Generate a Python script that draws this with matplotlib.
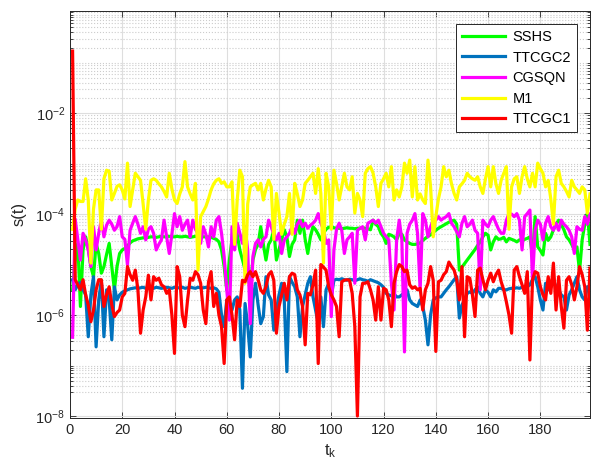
import numpy as np
import matplotlib
matplotlib.use("Agg")
import matplotlib.pyplot as plt
from matplotlib.ticker import FixedLocator, NullFormatter

plt.rcParams['font.family'] = ['Liberation Sans', 'DejaVu Sans']
plt.rcParams['mathtext.default'] = 'regular'

# log10 of s(t), t = 1..199
sshs = [-5.5, -4.9, -4.58, -5.83, -4.71, -4.45, -4.7, -5.04, -5.24, -4.58,
        -4.78, -5.17, -5.04, -4.8, -4.58, -5.04, -5.5, -5.04, -4.78, -4.71,
        -4.68, -4.63, -4.57, -4.53, -4.51, -4.49, -4.48, -4.47, -4.47, -4.46,
        -4.45, -4.45, -4.46, -4.45, -4.44, -4.45, -4.45, -4.44, -4.45, -4.45,
        -4.44, -4.45, -4.45, -4.44, -4.45, -4.46, -4.45, -4.44, -4.45, -4.45,
        -4.45, -4.45, -4.45, -4.46, -4.48, -4.5, -4.55, -4.71, -5.04, -5.5,
        -4.91, -4.5, -4.12, -4.4, -4.71, -4.9, -5.1, -5.24, -5.44, -4.91,
        -4.7, -4.6, -4.25, -4.6, -4.91, -4.6, -4.51, -4.31, -4.91, -4.7,
        -4.51, -4.31, -4.45, -4.84, -4.6, -4.51, -4.12, -4.38, -4.12, -4.5,
        -4.78, -4.45, -4.25, -4.31, -4.4, -4.51, -4.38, -4.3, -4.26, -4.25,
        -4.27, -4.28, -4.28, -4.29, -4.28, -4.27, -4.28, -4.28, -4.29, -4.28,
        -4.28, -4.27, -4.28, -4.29, -4.31, -4.12, -4.2, -4.25, -4.38, -4.45,
        -4.58, -4.4, -4.42, -4.45, -4.51, -4.38, -4.4, -4.51, -4.55, -4.58,
        -4.6, -4.6, -4.59, -4.57, -4.52, -4.48, -4.44, -4.41, -4.36, -4.32,
        -4.28, -4.25, -4.22, -4.19, -4.16, -4.14, -4.12, -4.2, -5.11, -5.05,
        -4.98, -4.91, -4.84, -4.77, -4.7, -4.62, -4.55, -4.45, -4.38, -4.42,
        -4.71, -4.55, -4.45, -4.5, -4.49, -4.46, -4.55, -4.48, -4.5, -4.52,
        -4.55, -4.51, -4.52, -4.5, -4.48, -4.45, -4.84, -4.05, -4.65, -4.72,
        -4.81, -4.38, -4.52, -4.45, -4.31, -4.2, -4.12, -4.2, -4.31, -4.45,
        -4.51, -4.6, -4.71, -4.65, -5.14, -4.51, -4.2, -3.98, -4.6]

ttcgc2 = [-5.3, -5.5, -5.4, -5.35, -5.5, -5.6, -6.43, -5.6, -5.24, -6.63,
          -5.7, -5.31, -6.43, -5.5, -5.7, -6.49, -5.44, -5.7, -5.6, -5.55,
          -5.52, -5.5, -5.48, -5.47, -5.46, -5.47, -5.46, -5.45, -5.47, -5.46,
          -5.46, -5.47, -5.45, -5.46, -5.47, -5.46, -5.45, -5.46, -5.47, -5.45,
          -5.46, -5.46, -5.45, -5.47, -5.46, -5.45, -5.46, -5.47, -5.45, -5.46,
          -5.46, -5.45, -5.46, -5.47, -5.46, -5.48, -5.55, -6.0, -6.23, -5.7,
          -5.8, -5.9, -5.7, -5.64, -5.9, -7.45, -5.77, -6.2, -6.83, -5.7,
          -5.37, -5.8, -6.17, -6.03, -5.24, -5.6, -5.7, -6.3, -5.9, -5.6,
          -5.37, -5.7, -7.12, -5.24, -5.35, -5.44, -5.64, -6.43, -5.83, -5.6,
          -5.37, -5.24, -5.64, -5.9, -6.17, -5.64, -6.23, -5.5, -5.37, -5.64,
          -5.31, -5.29, -5.3, -5.28, -5.3, -5.31, -5.29, -5.3, -5.32, -5.3,
          -5.28, -5.3, -5.31, -5.33, -5.3, -5.32, -5.34, -5.36, -5.4, -5.45,
          -5.57, -5.6, -5.62, -5.58, -5.64, -5.64, -5.6, -5.55, -5.5, -5.7,
          -5.77, -5.8, -5.83, -5.7, -5.83, -6.1, -6.59, -6.0, -5.7, -5.66,
          -5.64, -5.64, -5.57, -5.5, -5.44, -5.37, -5.3, -5.24, -6.06, -5.8,
          -5.7, -5.57, -5.54, -5.57, -5.5, -5.44, -5.57, -5.64, -5.5, -5.55,
          -5.64, -5.5, -5.54, -5.47, -5.47, -5.5, -5.5, -5.48, -5.47, -5.47,
          -5.46, -5.47, -5.45, -5.44, -5.44, -5.4, -5.3, -5.24, -5.44, -5.7,
          -5.9, -5.37, -5.5, -5.45, -5.31, -5.44, -5.5, -5.6, -5.64, -5.9,
          -5.6, -5.5, -5.37, -5.24, -5.5, -5.64, -5.7, -5.44, -5.5]

cgsqn = [-6.44, -4.1, -4.5, -4.91, -4.38, -4.51, -4.7, -5.04, -4.25, -4.71,
         -4.38, -4.12, -4.45, -4.22, -4.12, -4.2, -4.32, -4.25, -4.05, -4.45,
         -4.5, -5.01, -4.32, -4.18, -4.05, -4.2, -4.38, -4.25, -4.51, -4.3,
         -4.25, -4.38, -4.71, -4.6, -4.51, -4.12, -4.45, -4.78, -4.4, -3.99,
         -4.25, -4.05, -4.32, -4.2, -4.12, -4.45, -4.12, -4.3, -4.38, -4.58,
         -4.25, -4.4, -4.65, -4.25, -4.45, -4.12, -4.05, -4.38, -4.84, -5.5,
         -6.1, -4.25, -4.71, -4.18, -4.38, -4.58, -4.25, -4.71, -6.17, -4.84,
         -4.58, -4.51, -4.65, -4.5, -4.45, -4.12, -4.25, -4.4, -4.51, -4.38,
         -4.78, -4.51, -4.45, -4.38, -4.25, -4.38, -4.2, -4.12, -4.25, -4.18,
         -4.28, -4.22, -4.18, -4.12, -3.99, -4.18, -4.3, -4.58, -4.51, -6.03,
         -4.71, -4.3, -4.18, -4.32, -4.78, -4.51, -4.45, -4.38, -5.37, -4.32,
         -4.28, -4.25, -4.51, -4.18, -4.15, -4.12, -4.18, -4.12, -4.25, -4.38,
         -4.45, -4.51, -5.37, -5.9, -4.51, -4.12, -4.51, -6.73, -4.38, -4.2,
         -4.12, -3.99, -4.38, -5.5, -3.99, -4.12, -4.45, -4.25, -4.12, -4.12,
         -4.05, -4.12, -4.08, -4.05, -3.99, -4.18, -4.25, -4.35, -4.45, -4.18,
         -4.05, -4.25, -4.2, -4.12, -4.32, -4.38, -5.5, -4.12, -4.2, -4.25,
         -4.12, -4.05, -4.18, -4.3, -4.38, -4.38, -4.12, -3.99, -4.0, -4.05,
         -3.99, -4.12, -4.71, -4.05, -3.99, -3.92, -5.31, -4.32, -4.12, -4.2,
         -4.51, -4.18, -4.05, -4.25, -4.32, -4.18, -4.32, -4.12, -4.2, -4.25,
         -4.32, -4.45, -4.78, -4.25, -4.3, -4.32, -4.05, -4.2, -4.0]

m1 = [-4.3, -3.9, -3.72, -3.75, -3.75, -3.3, -3.72, -4.97, -3.9, -3.52,
      -3.52, -4.3, -3.3, -3.13, -3.15, -3.72, -3.59, -3.45, -3.42, -3.52,
      -3.7, -2.99, -3.85, -3.52, -3.19, -3.26, -3.33, -3.8, -4.3, -3.72,
      -3.33, -3.3, -3.33, -3.4, -3.46, -3.55, -3.66, -3.19, -3.5, -3.72,
      -3.79, -3.6, -3.46, -2.96, -3.46, -3.6, -3.72, -3.39, -5.11, -4.05,
      -3.95, -3.85, -3.7, -3.52, -3.4, -3.33, -3.3, -3.39, -3.36, -3.46,
      -3.46, -3.36, -4.6, -3.72, -3.13, -3.26, -5.37, -3.8, -3.46, -3.42,
      -3.39, -3.52, -3.39, -3.72, -3.5, -3.33, -3.46, -4.5, -3.59, -3.98,
      -4.4, -4.2, -4.05, -3.59, -4.4, -3.39, -3.6, -3.85, -3.72, -3.39,
      -3.33, -3.26, -3.19, -3.59, -3.1, -3.59, -4.97, -3.19, -3.46, -4.3,
      -3.13, -3.39, -3.72, -3.46, -3.19, -3.46, -3.52, -3.26, -3.98, -3.59,
      -3.72, -4.05, -3.19, -3.1, -3.06, -3.19, -3.46, -3.85, -3.39, -3.3,
      -3.19, -3.46, -3.06, -3.72, -3.52, -3.66, -3.46, -2.99, -3.19, -2.93,
      -3.66, -3.06, -3.72, -3.6, -3.72, -3.79, -2.93, -3.46, -4.45, -4.05,
      -3.7, -3.46, -3.06, -3.26, -3.13, -3.4, -3.59, -3.72, -3.46, -3.4,
      -3.33, -3.19, -3.26, -3.3, -3.33, -3.26, -3.46, -3.59, -3.3, -3.06,
      -3.46, -3.06, -3.4, -3.59, -3.33, -3.19, -3.06, -4.3, -3.46, -3.3,
      -3.26, -3.59, -3.26, -3.06, -3.3, -3.46, -3.19, -3.46, -2.99, -3.1,
      -3.19, -3.46, -3.33, -3.7, -4.2, -3.26, -3.13, -3.39, -3.46, -3.55,
      -3.66, -3.33, -3.46, -3.52, -3.59, -3.46, -3.52, -3.98, -3.6]

ttcgc1 = [-0.77, -5.3, -5.4, -5.5, -5.3, -5.6, -5.8, -6.13, -5.9, -5.5,
          -5.3, -5.3, -5.83, -5.6, -5.44, -5.8, -6.03, -5.95, -5.9, -5.64,
          -5.57, -5.04, -5.2, -5.31, -5.11, -5.5, -6.36, -5.9, -5.64, -5.21,
          -5.7, -5.24, -5.31, -5.27, -5.4, -5.44, -5.57, -5.5, -6.0, -6.76,
          -5.04, -5.24, -6.0, -6.23, -5.7, -5.27, -5.31, -5.14, -5.2, -5.37,
          -5.9, -6.17, -5.35, -5.14, -5.83, -5.57, -6.0, -6.23, -6.96, -5.7,
          -5.64, -6.0, -6.49, -5.7, -5.83, -5.31, -5.34, -5.2, -5.14, -5.24,
          -5.14, -5.3, -5.5, -5.57, -5.44, -5.2, -5.14, -5.31, -6.36, -5.83,
          -5.6, -5.37, -5.7, -5.24, -5.17, -5.2, -5.5, -5.6, -5.83, -6.59,
          -5.57, -5.6, -5.4, -5.11, -6.96, -5.0, -5.05, -5.11, -5.44, -5.6,
          -5.7, -5.83, -6.43, -5.34, -5.31, -5.3, -5.31, -5.57, -6.23, -8.0,
          -5.64, -5.37, -5.37, -5.34, -5.5, -5.7, -6.1, -5.44, -6.1, -5.47,
          -5.5, -5.7, -6.23, -5.37, -5.14, -5.0, -5.04, -5.14, -5.11, -5.4,
          -5.47, -5.44, -5.5, -5.47, -5.9, -5.5, -5.37, -5.04, -5.31, -6.72,
          -5.34, -5.31, -5.2, -5.14, -4.95, -5.04, -5.11, -5.3, -5.7, -5.04,
          -6.43, -5.24, -5.27, -5.6, -6.03, -5.11, -5.07, -5.3, -5.5, -5.31,
          -5.17, -5.34, -5.2, -5.11, -5.34, -5.5, -5.74, -6.0, -6.36, -5.11,
          -5.04, -5.24, -5.4, -5.57, -5.14, -6.89, -5.3, -5.14, -5.17, -5.44,
          -5.6, -5.7, -5.24, -5.57, -4.97, -5.9, -5.24, -5.83, -6.26, -5.31,
          -5.24, -5.4, -5.7, -5.44, -5.04, -5.2, -5.44, -6.3, -5.07]

labels = ['SSHS', 'TTCGC2', 'CGSQN', 'M1', 'TTCGC1']
colors = ['#00ff00', '#0072bd', '#ff00ff', '#ffff00', '#ff0000']
series = [sshs, ttcgc2, cgsqn, m1, ttcgc1]
xticks = list(range(0, 181, 20))
yticks = [1e-8, 1e-6, 1e-4, 1e-2]

fig = plt.figure(figsize=(5.95, 4.74), dpi=100)
ax = fig.add_axes([0.1176, 0.1181, 0.874, 0.8593])

for vals, lab, col in zip(series, labels, colors):
    t = np.arange(1, len(vals) + 1)
    ax.semilogy(t, 10.0 ** np.array(vals), color=col, lw=2.3, label=lab)

ax.set_xlim(0, 199)
ax.set_ylim(10 ** -8.04, 10 ** 0.03)
ax.set_xticks(xticks)
ax.yaxis.set_major_locator(FixedLocator(yticks))
minor = [k * 10.0 ** n for n in range(-9, 1) for k in range(1, 10)]
minor = [v for v in minor if not any(np.isclose(v, yt) for yt in yticks)]
ax.yaxis.set_minor_locator(FixedLocator(minor))
ax.yaxis.set_minor_formatter(NullFormatter())
ax.set_yticklabels(['$10^{-8}$', '$10^{-6}$', '$10^{-4}$', '$10^{-2}$'])

ax.grid(True, which='major', color='#dedede', lw=0.8)
ax.grid(True, which='minor', axis='y', color='#cccccc', lw=0.8, ls=':')
ax.set_axisbelow(True)
ax.tick_params(which='both', direction='in', top=True, right=True,
               labelsize=10.5, colors='#262626', width=0.6)
ax.tick_params(which='major', length=4)
ax.tick_params(which='minor', length=2.5)
for sp in ax.spines.values():
    sp.set_color('#262626')
    sp.set_linewidth(0.7)

ax.set_xlabel('$t_k$', fontsize=12, color='#262626')
ax.set_ylabel('s(t)', fontsize=12, color='#262626', labelpad=6)

leg = ax.legend(loc='upper right', bbox_to_anchor=(0.975, 0.967), borderaxespad=0,
                fontsize=10.5, handlelength=3.0, handletextpad=0.5,
                fancybox=False, framealpha=1, edgecolor='#262626',
                borderpad=0.4, labelspacing=0.45)
leg.get_frame().set_linewidth(0.7)

fig.savefig('out.png', dpi=100)
